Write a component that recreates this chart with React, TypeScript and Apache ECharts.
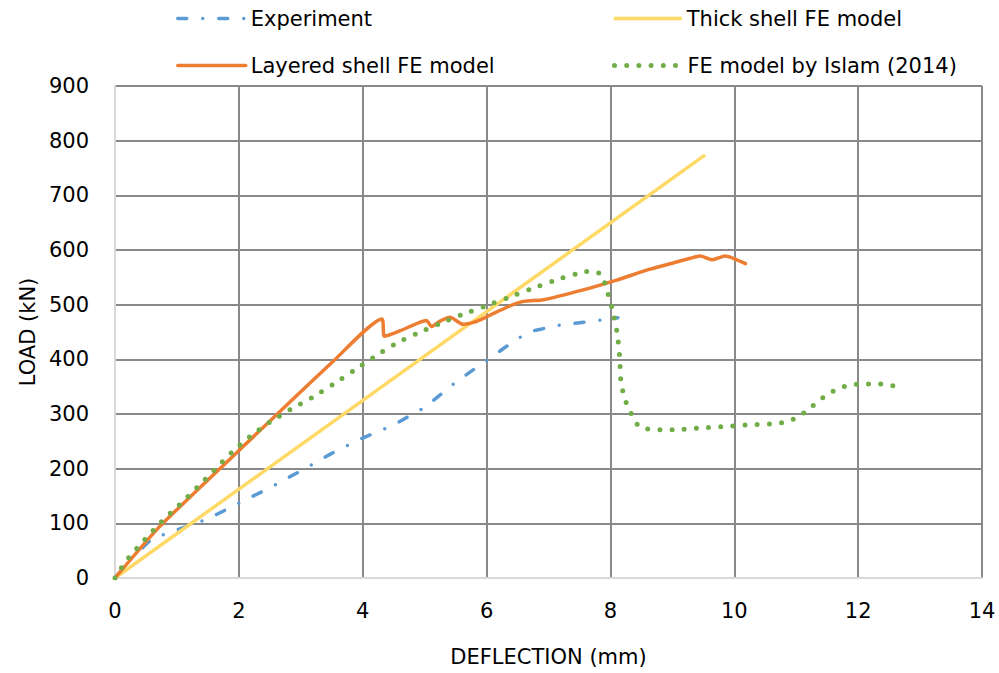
import React, { useEffect, useRef } from "react";
import * as echarts from "echarts";

const seriesNames = ["Experiment", "Thick shell FE model", "Layered shell FE model", "FE model by Islam (2014)"];

const expX = [0, 0.3, 0.6, 0.9, 1.5, 2.0, 2.5, 3.0, 3.5, 4.0, 4.5, 5.0, 5.5, 6.0, 6.5, 6.75, 7.2, 7.8, 8.12];
const expY = [0, 40, 72, 84, 108, 137, 165, 196, 228, 256, 280, 312, 358, 398, 438, 452, 463, 471, 476];

const thickX = [0, 9.53];
const thickY = [0, 774];

const layX = [0, 0.72, 1.99, 3.52, 4.31, 4.35, 4.6, 5.03, 5.11, 5.25, 5.41, 5.62, 5.8, 5.95, 6.15, 6.38, 6.6, 6.92, 7.56, 8.1, 8.64, 9.1, 9.29, 9.45, 9.56, 9.64, 9.85, 10.18];
const layY = [0, 94, 232, 396, 474, 442, 452, 471, 460, 470, 477, 464, 468, 475, 486, 498, 506, 509, 527, 545, 565, 579, 585, 589, 585, 582, 589, 575];

const islX = [0, 0.1, 0.22, 0.48, 0.75, 1.04, 1.32, 1.6, 1.88, 2.18, 2.5, 2.83, 3.18, 3.52, 3.85, 4.18, 4.52, 4.87, 5.24, 5.61, 5.97, 6.35, 6.72, 7.09, 7.47, 7.66, 7.85, 7.92, 8.03, 8.11, 8.15, 8.17, 8.21, 8.27, 8.36, 8.47, 8.63, 8.83, 9.03, 9.42, 9.82, 10.21, 10.61, 10.81, 11.0, 11.16, 11.31, 11.47, 11.64, 11.83, 12.03, 12.23, 12.42, 12.62];
const islY = [0, 18, 37, 70, 103, 134, 165, 197, 229, 259, 285, 308, 330, 354, 379, 404, 428, 447, 465, 482, 497, 513, 529, 544, 557, 561, 556, 535, 492, 447, 403, 359, 337, 316, 295, 276, 272, 271, 271, 274, 277, 280, 282, 285, 293, 305, 319, 333, 344, 352, 355, 355, 355, 350];

const pts = (xs: number[], ys: number[]) => xs.map((x, i) => [x, ys[i]]);

const FONT = "DejaVu Sans";

const BLUE = "#5B9BD5";
const YELLOW = "#FFD966";
const ORANGE = "#ED7D31";
const GREEN = "#70AD47";

const expLine = { color: BLUE, width: 3.5, type: [9, 16, 0, 16], cap: "round" };
const thickLine = { color: YELLOW, width: 3.5 };
const layLine = { color: ORANGE, width: 3.5, join: "round", cap: "round" };
const islLine = { color: GREEN, width: 5, type: [0, 12.2], cap: "round" };

export default function App() {
  const ref = useRef<HTMLDivElement>(null);
  useEffect(() => {
    const chart = echarts.init(ref.current!, null, { renderer: "svg" });
    const legendBase = (name: string, left: number, top: number, ls: any) => ({
      data: [name],
      left,
      top,
      itemWidth: 68,
      itemHeight: 14,
      itemGap: 0,
      itemStyle: { opacity: 0 },
      lineStyle: ls,
      textStyle: { fontSize: 21, fontFamily: FONT, color: "#000" },
      selectedMode: false,
    });
    chart.setOption({
      animation: false,
      backgroundColor: "#fff",
      textStyle: { fontFamily: FONT },
      legend: [
        legendBase(seriesNames[0], 171, 3, expLine),
        legendBase(seriesNames[1], 607, 3, thickLine),
        legendBase(seriesNames[2], 171, 50, layLine),
        legendBase(seriesNames[3], 607, 50, islLine),
      ],
      grid: { left: 115, right: 17, top: 86, bottom: 95 },
      xAxis: {
        type: "value",
        min: 0,
        max: 14,
        interval: 2,
        name: "DEFLECTION (mm)",
        nameLocation: "middle",
        nameGap: 68,
        nameTextStyle: { fontSize: 21, fontFamily: FONT, color: "#000" },
        axisLine: { show: true, lineStyle: { color: "#d9d9d9", width: 2 } },
        axisTick: { show: false },
        axisLabel: { fontSize: 21, fontFamily: FONT, color: "#000", margin: 22 },
        splitLine: { show: true, lineStyle: { color: "#898989", width: 2 } },
      },
      yAxis: {
        type: "value",
        min: 0,
        max: 900,
        interval: 100,
        name: "LOAD (kN)",
        nameLocation: "middle",
        nameGap: 76,
        nameTextStyle: { fontSize: 21, fontFamily: FONT, color: "#000" },
        axisLine: { show: true, lineStyle: { color: "#d9d9d9", width: 2 } },
        axisTick: { show: false },
        axisLabel: { fontSize: 21, fontFamily: FONT, color: "#000", margin: 26 },
        splitLine: { show: true, lineStyle: { color: "#898989", width: 2 } },
      },
      series: [
        {
          name: seriesNames[0],
          type: "line",
          data: pts(expX, expY),
          showSymbol: false,
          symbol: "none",
          color: BLUE,
          lineStyle: expLine,
        },
        {
          name: seriesNames[1],
          type: "line",
          data: pts(thickX, thickY),
          showSymbol: false,
          symbol: "none",
          color: YELLOW,
          lineStyle: thickLine,
        },
        {
          name: seriesNames[2],
          type: "line",
          data: pts(layX, layY),
          showSymbol: false,
          symbol: "none",
          smooth: 0.2,
          color: ORANGE,
          lineStyle: layLine,
        },
        {
          name: seriesNames[3],
          type: "line",
          data: pts(islX, islY),
          showSymbol: false,
          symbol: "none",
          smooth: 0.2,
          color: GREEN,
          lineStyle: islLine,
        },
      ],
    });
    return () => chart.dispose();
  }, []);
  return <div ref={ref} style={{ position: "absolute", left: 0, top: 0, width: 999, height: 673 }} />;
}
